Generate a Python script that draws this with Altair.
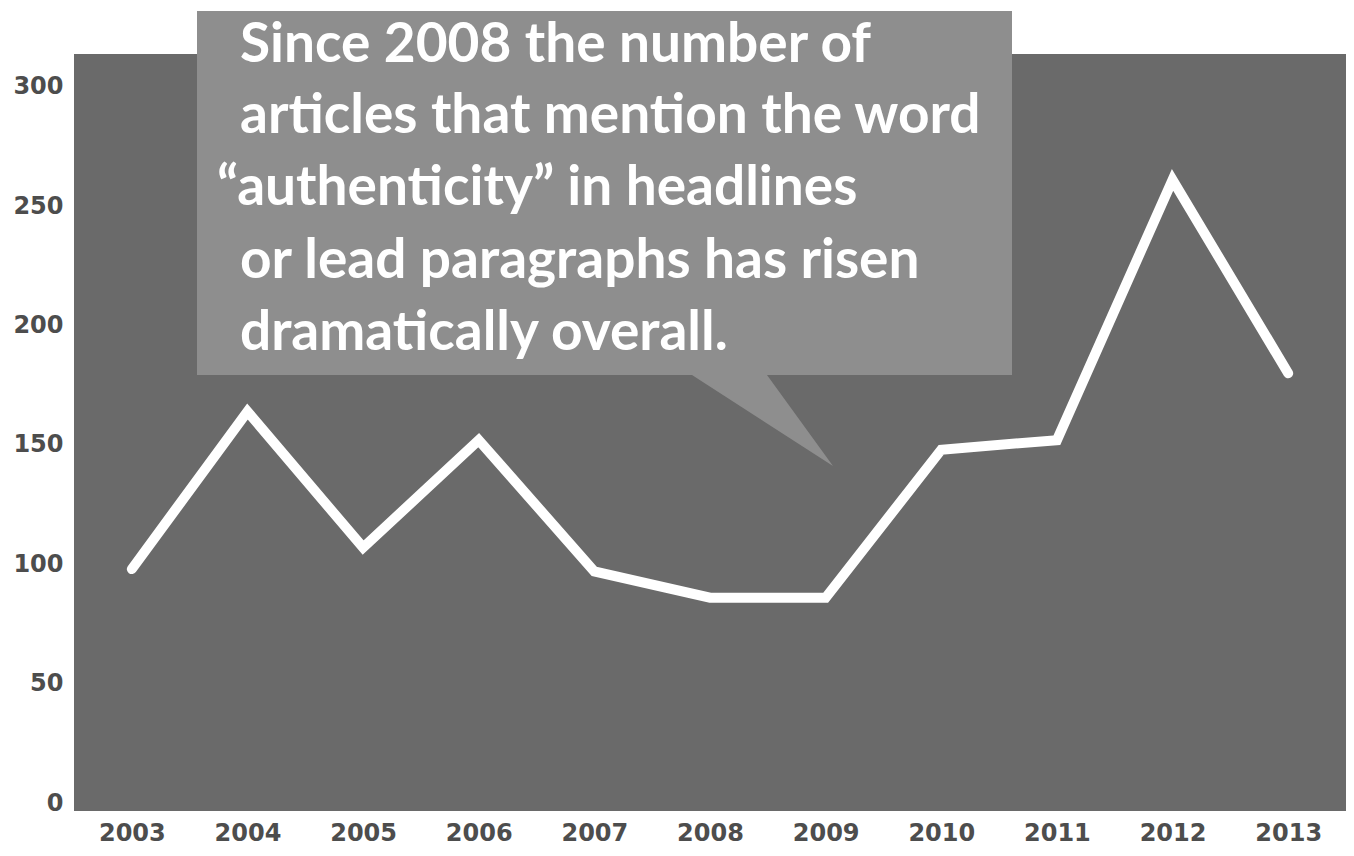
import altair as alt
import pandas as pd

# ---- data ----
years = ["2003", "2004", "2005", "2006", "2007", "2008", "2009", "2010", "2011", "2012", "2013"]
articles = [98, 164, 107, 152, 97, 86, 86, 148, 152, 261, 180]
y_ticks = [0, 50, 100, 150, 200, 250, 300]
callout_lines = [
    "Since 2008 the number of",
    "articles that mention the word",
    "\u201cauthenticity\u201d in headlines",
    "or lead paragraphs has risen",
    "dramatically overall.",
]

# ---- styling / layout ----
PLOT_BG = "#6a6a6a"
BOX = "#8e8e8e"
AXIS_TXT = "#4d4d4d"
W, H = 1272, 757
LEFT, TOP = 66, 46

df = pd.DataFrame({"year": years, "articles": articles})

x_enc = alt.X(
    "year:O",
    sort=years,
    scale=alt.Scale(type="point", padding=0.5),
    axis=alt.Axis(
        title=None, labelAngle=0, ticks=False, domain=False, grid=False,
        labelFont="DejaVu Sans", labelFontWeight="bold", labelFontSize=24,
        labelColor=AXIS_TXT, labelPadding=29, labelBaseline="alphabetic",
    ),
)
y_enc = alt.Y(
    "articles:Q",
    scale=alt.Scale(domain=[-3.3, 313.7], nice=False, zero=False),
    axis=alt.Axis(
        title=None, values=y_ticks, ticks=False, domain=False, grid=False,
        labelFont="DejaVu Sans", labelFontWeight="bold", labelFontSize=24,
        labelColor=AXIS_TXT, labelPadding=11,
    ),
)

line = alt.Chart(df).mark_line(
    color="white", strokeWidth=10, strokeCap="round", strokeJoin="miter", clip=False
).encode(x=x_enc, y=y_enc)

# speech-bubble callout (box + pointer), drawn as one path in pixel units (size=4 -> scale 1)
bubble_path = "M0,0 H815 V364 H570 L636,455 L495,364 H0 Z"
one = pd.DataFrame({"k": [0]})
bubble = alt.Chart(one).mark_point(
    shape=bubble_path, size=4, filled=True, color=BOX, opacity=1, strokeWidth=0
).encode(x=alt.value(197 - 74), y=alt.value(11 - 54))

text_x = [166, 166, 143, 166, 166]
text_y = [8, 79, 151, 224, 296]
texts = []
for s, tx, ty in zip(callout_lines, text_x, text_y):
    texts.append(
        alt.Chart(one).mark_text(
            text=s, align="left", baseline="alphabetic", font="Lato",
            fontWeight="bold", fontSize=55, color="white",
        ).encode(x=alt.value(tx), y=alt.value(ty))
    )

chart = alt.layer(line, bubble, *texts).properties(
    width=W, height=H,
    background="white",
    autosize=alt.AutoSizeParams(type="none"),
    padding={"left": LEFT, "top": TOP, "right": 0, "bottom": 37},
).configure_view(fill=PLOT_BG, strokeWidth=0)

chart.save("out.html", embed_options={"renderer": "svg", "actions": False})
